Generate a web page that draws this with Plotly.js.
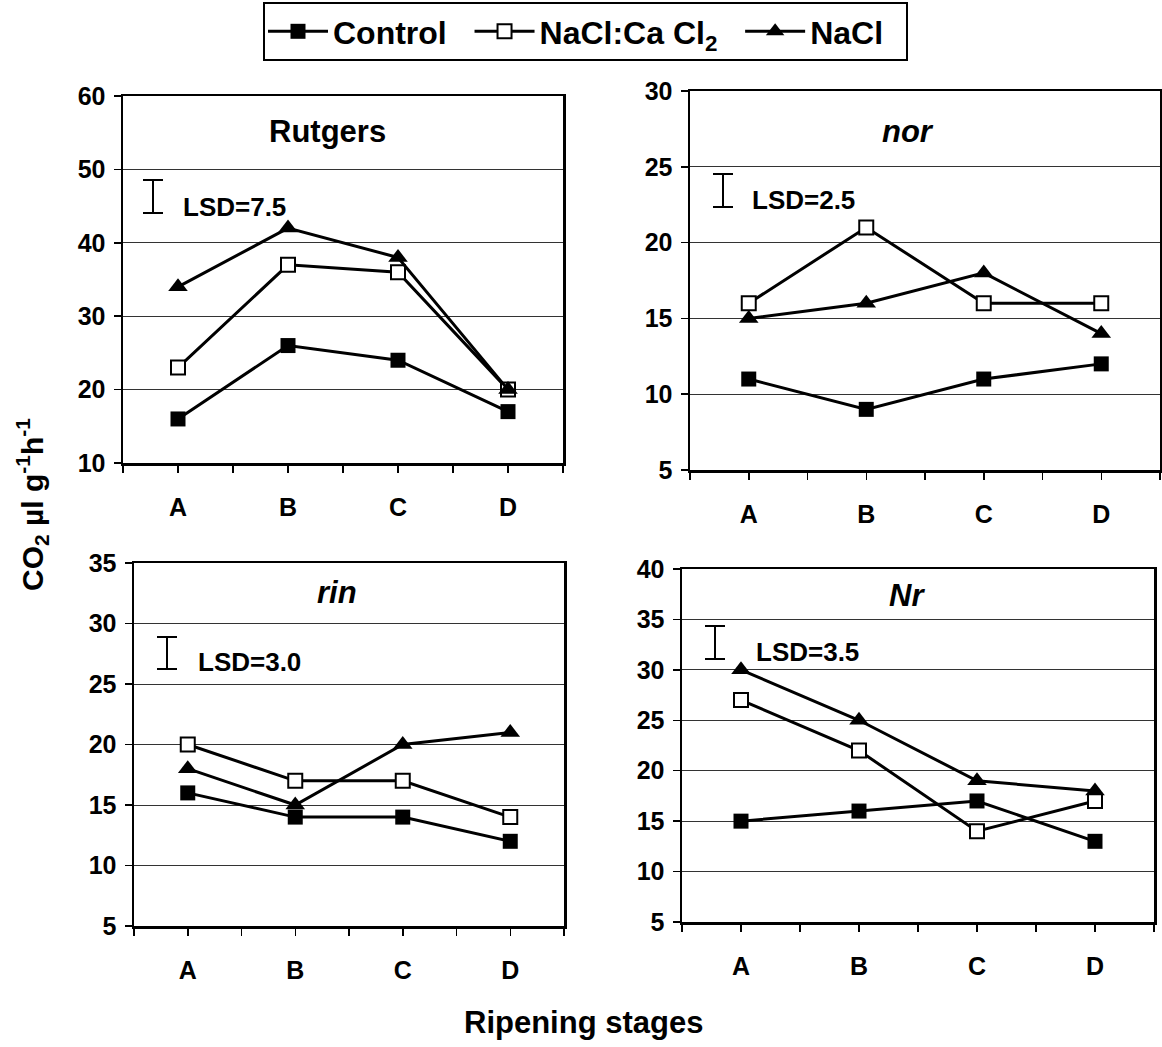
<!DOCTYPE html>
<html>
<head>
<meta charset="utf-8">
<script src="https://cdn.plot.ly/plotly-3.0.1.min.js"></script>
<style>html,body{margin:0;padding:0;background:#fff;}#chart{width:1162px;height:1047px;}</style>
</head>
<body>
<div id="chart"></div>
<script>
// ---- data ----
const categories = ['A', 'B', 'C', 'D'];
const seriesNames = ['Control', 'NaCl:Ca Cl<sub>2</sub>', 'NaCl'];
const panelTitles = ['Rutgers', 'nor', 'rin', 'Nr'];
const lsdLabels = ['LSD=7.5', 'LSD=2.5', 'LSD=3.0', 'LSD=3.5'];

const rutgersControl   = [16, 26, 24, 17];
const rutgersNaClCaCl2 = [23, 37, 36, 20];
const rutgersNaCl      = [34, 42, 38, 20];

const norControl   = [11, 9, 11, 12];
const norNaClCaCl2 = [16, 21, 16, 16];
const norNaCl      = [15, 16, 18, 14];

const rinControl   = [16, 14, 14, 12];
const rinNaClCaCl2 = [20, 17, 17, 14];
const rinNaCl      = [18, 15, 20, 21];

const nrControl   = [15, 16, 17, 13];
const nrNaClCaCl2 = [27, 22, 14, 17];
const nrNaCl      = [30, 25, 19, 18];

const yRanges = [[10, 60], [5, 30], [5, 35], [5, 40]];
const yDticks = [10, 5, 5, 5];

// ---- styling / layout ----
const FONT = 'Liberation Sans, Arial, sans-serif';
const NB = '\u00a0';
const legendPad = [NB + NB, NB + NB, NB + NB];
const panelData = [
  [rutgersControl, rutgersNaClCaCl2, rutgersNaCl],
  [norControl, norNaClCaCl2, norNaCl],
  [rinControl, rinNaClCaCl2, rinNaCl],
  [nrControl, nrNaClCaCl2, nrNaCl]
];
const W = 1162, H = 1047;
// pixel boxes [left, right, top, bottom]
const boxes = [
  [123, 563, 96, 463],
  [690, 1160, 91, 470],
  [134, 564, 563, 926],
  [682, 1154, 569, 922]
];
const markerStyles = [
  {symbol: 'square', size: 15, color: 'black', line: {color: 'black', width: 0}},
  {symbol: 'square', size: 14, color: 'white', line: {color: 'black', width: 2}},
  {symbol: 'triangle-up', size: 17, color: 'black', line: {color: 'black', width: 0}}
];
const titleStyle = [
  {fx: 0.464, dy: 36, italic: false},
  {fx: 0.463, dy: 41, italic: true},
  {fx: 0.472, dy: 29, italic: true},
  {fx: 0.477, dy: 26, italic: true}
];
// I-bar: x offset, y top offset, y bottom offset ; text x offset, text y offset (pixels from panel top-left)
const lsdStyle = [
  {bx: 30, by0: 84, by1: 117, tx: 58, ty: 111},
  {bx: 33, by0: 83, by1: 116, tx: 60, ty: 109},
  {bx: 33, by0: 74, by1: 106, tx: 62, ty: 99},
  {bx: 33, by0: 57, by1: 90, tx: 72, ty: 83}
];

const px = v => v / W;
const py = v => 1 - v / H;

const xIdx = categories.map((c, i) => i);
const traces = [];
const layout = {
  width: W, height: H,
  margin: {l: 0, r: 0, t: 0, b: 0},
  paper_bgcolor: 'white', plot_bgcolor: 'white',
  font: {family: FONT, color: 'black'},
  showlegend: true,
  legend: {
    orientation: 'h', x: px(263), y: py(2), xanchor: 'left', yanchor: 'top',
    bordercolor: 'black', borderwidth: 2, bgcolor: 'white',
    font: {family: FONT, size: 32, color: 'black', weight: 'bold'},
    itemwidth: 60, tracegroupgap: 0
  },
  annotations: [], shapes: []
};

panelData.forEach((series, p) => {
  const xa = p === 0 ? 'x' : 'x' + (p + 1);
  const ya = p === 0 ? 'y' : 'y' + (p + 1);
  const xk = p === 0 ? 'xaxis' : 'xaxis' + (p + 1);
  const yk = p === 0 ? 'yaxis' : 'yaxis' + (p + 1);
  const [l, r, t, b] = boxes[p];
  series.forEach((vals, s) => {
    traces.push({
      type: 'scatter', mode: 'lines+markers',
      x: xIdx, y: vals, xaxis: xa, yaxis: ya,
      name: seriesNames[s] + legendPad[s], legendgroup: 's' + s, showlegend: p === 0,
      line: {color: 'black', width: 3},
      marker: markerStyles[s],
      cliponaxis: false
    });
  });
  layout[xk] = {
    domain: [px(l), px(r)], anchor: ya,
    range: [-0.5, 3.5], fixedrange: true,
    tickmode: 'array', tickvals: xIdx, ticktext: categories,
    ticks: 'outside', ticklen: 7, tickwidth: 1.5, tickcolor: 'black',
    ticklabelstandoff: 13,
    tickfont: {family: FONT, size: 25, color: 'black', weight: 'bold'},
    minor: {tick0: 0.5, dtick: 1, ticks: 'outside', ticklen: 7, tickwidth: 1.5, tickcolor: 'black'},
    showgrid: false, zeroline: false,
    showline: true, linecolor: 'black', linewidth: 2.5, mirror: true
  };
  layout[yk] = {
    domain: [py(b), py(t)], anchor: xa,
    range: yRanges[p], dtick: yDticks[p], tick0: 0, fixedrange: true,
    ticks: 'outside', ticklen: 7, tickwidth: 1.5, tickcolor: 'black',
    ticklabelstandoff: 3,
    tickfont: {family: FONT, size: 25, color: 'black', weight: 'bold'},
    showgrid: true, gridcolor: '#333', gridwidth: 1, zeroline: false,
    showline: true, linecolor: 'black', linewidth: 2.5, mirror: true
  };
  // panel title
  const ts = titleStyle[p];
  layout.annotations.push({
    text: panelTitles[p], xref: 'paper', yref: 'paper',
    x: px(l + ts.fx * (r - l)), y: py(t + ts.dy), xanchor: 'center', yanchor: 'middle', showarrow: false,
    font: {family: FONT, size: 31, color: 'black', weight: 'bold', style: ts.italic ? 'italic' : 'normal'}
  });
  // LSD label
  const ls = lsdStyle[p];
  layout.annotations.push({
    text: lsdLabels[p], xref: 'paper', yref: 'paper',
    x: px(l + ls.tx), y: py(t + ls.ty), xanchor: 'left', yanchor: 'middle', showarrow: false,
    font: {family: FONT, size: 26, color: 'black', weight: 'bold'}
  });
  const base = {type: 'line', xref: 'paper', yref: 'paper', line: {color: 'black', width: 2}};
  const bx = l + ls.bx, y0 = t + ls.by0, y1 = t + ls.by1;
  layout.shapes.push(Object.assign({}, base, {x0: px(bx), x1: px(bx), y0: py(y0), y1: py(y1)}));
  layout.shapes.push(Object.assign({}, base, {x0: px(bx - 10), x1: px(bx + 10), y0: py(y0), y1: py(y0)}));
  layout.shapes.push(Object.assign({}, base, {x0: px(bx - 10), x1: px(bx + 10), y0: py(y1), y1: py(y1)}));
});

// shared axis titles
layout.annotations.push({
  text: 'CO<sub>2</sub> µl g<sup>-1</sup>h<sup>-1</sup>', xref: 'paper', yref: 'paper',
  x: px(32), y: py(505), xanchor: 'center', yanchor: 'middle', textangle: -90, showarrow: false,
  font: {family: FONT, size: 30, color: 'black', weight: 'bold'}
});
layout.annotations.push({
  text: 'Ripening stages', xref: 'paper', yref: 'paper',
  x: px(583), y: py(1022), xanchor: 'center', yanchor: 'middle', showarrow: false,
  font: {family: FONT, size: 31, color: 'black', weight: 'bold'}
});

Plotly.newPlot('chart', traces, layout, {staticPlot: true, displayModeBar: false});
</script>
</body>
</html>
